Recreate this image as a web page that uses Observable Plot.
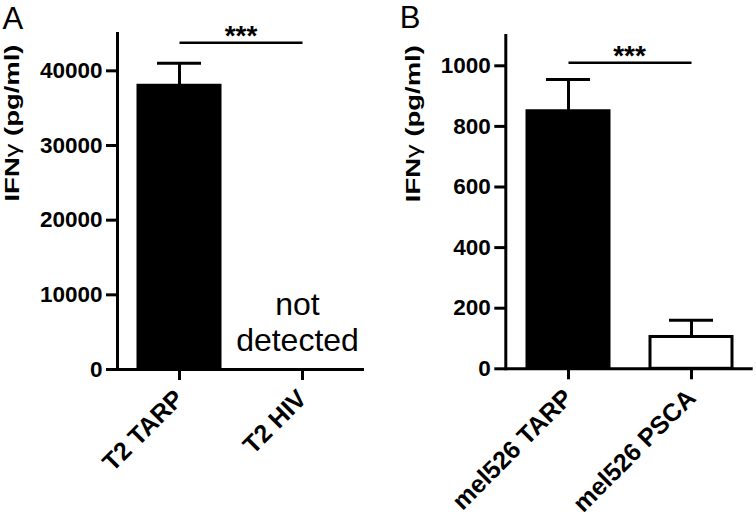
<!DOCTYPE html>
<html><head><meta charset="utf-8">
<script src="https://cdn.jsdelivr.net/npm/d3@7"></script>
<script src="https://cdn.jsdelivr.net/npm/@observablehq/plot@0.6"></script>
<style>
body{margin:0;background:#fff;}
#wrap{display:flex;width:756px;height:520px;}
</style>
</head><body><div id="wrap"></div>
<script>
// Panel A data
const groupsA = ["T2 TARP", "T2 HIV"];
const meansA = [38000, null];
const semsA = [3000, null];
const notDetectedA = ["T2 HIV"];
const yTicksA = [0, 10000, 20000, 30000, 40000];
const yMaxA = 45000;
const sigLevelA = 43750;

// Panel B data
const groupsB = ["mel526 TARP", "mel526 PSCA"];
const meansB = [850, 105];
const semsB = [105, 55];
const notDetectedB = [];
const yTicksB = [0, 200, 400, 600, 800, 1000];
const yMaxB = 1100;
const sigLevelB = 1010;

const yLabel = "IFNγ (pg/ml)";
const stars = "***";
const notDetectedText = "not\ndetected";

const FONT = "Arial, 'Liberation Sans', Helvetica, sans-serif";

function panel(o) {
  const rows = o.groups.map((g, i) => ({group: g, mean: o.means[i], sem: o.sems[i]}));
  const measured = rows.filter(d => d.mean != null);
  const sig = [{from: o.groups[0], to: o.groups[1], y: o.sigLevel}];
  return Plot.plot({
    width: 378, height: 520,
    marginLeft: o.marginLeft, marginRight: o.marginRight,
    marginTop: o.marginTop, marginBottom: o.marginBottom,
    style: {fontFamily: FONT, fontSize: "22px", fontWeight: "bold", background: "white", overflow: "visible", color: "black"},
    x: {domain: o.groups, paddingInner: 0.335, paddingOuter: 0.1675, label: null},
    y: {domain: [0, o.yMax], label: null},
    marks: [
      Plot.barY(measured, {x: "group", y: "mean", fill: d => d.group.includes("TARP") ? "black" : "white", stroke: "black", strokeWidth: 3}),
      Plot.ruleX(measured, {x: "group", y1: "mean", y2: d => d.mean + d.sem, strokeWidth: 3}),
      Plot.tickY(measured, {x: "group", y: d => d.mean + d.sem, strokeWidth: 3, insetLeft: 19, insetRight: 19}),
      Plot.link(sig, {x1: "from", x2: "to", y1: "y", y2: "y", strokeWidth: 2.5}),
      Plot.text(sig, {y: "y", text: () => stars, lineAnchor: "bottom", dy: 2, fontSize: 28, fontWeight: "bold"}),
      Plot.text(o.notDetected, {x: d => d, y: () => 0, text: () => notDetectedText, lineAnchor: "bottom", lineHeight: 1.1, dx: -5, dy: -19, fontSize: 32, fontWeight: "normal"}),
      Plot.axisY({ticks: o.yTicks, tickSize: 11, tickPadding: 4, strokeWidth: 3, tickFormat: d3.format("d"), fontSize: 22.5, fontWeight: "bold", label: null}),
      Plot.axisX({tickSize: 11, tickPadding: 14, tickRotate: -45, strokeWidth: 3, fontSize: 25, fontWeight: "bold", label: null}),
      Plot.ruleY([0], {strokeWidth: 3}),
      Plot.frame({anchor: "left", strokeWidth: 3}),
      Plot.text([yLabel], {frameAnchor: "left", rotate: -90, dx: o.labelDx, fontSize: 21, fontWeight: "bold"}),
      Plot.text([o.letter], {frameAnchor: "top-left", textAnchor: "start", lineAnchor: "bottom", dx: o.letterDx, dy: o.letterDy, fontSize: 31, fontWeight: "normal"})
    ]
  });
}

const wrap = document.getElementById("wrap");
const pA = panel({letter: "A", groups: groupsA, means: meansA, sems: semsA, yTicks: yTicksA, yMax: yMaxA, sigLevel: sigLevelA, notDetected: notDetectedA,
  marginLeft: 117, marginRight: 14, marginTop: 33, marginBottom: 151, labelDx: -105, letterDx: -115, letterDy: -5});
const pB = panel({letter: "B", groups: groupsB, means: meansB, sems: semsB, yTicks: yTicksB, yMax: yMaxB, sigLevel: sigLevelB, notDetected: notDetectedB,
  marginLeft: 127.3, marginRight: 3.3, marginTop: 35, marginBottom: 151.7, labelDx: -93, letterDx: -106, letterDy: -7.7});
wrap.append(pA, pB);
for (const svg of [pA, pB]) {
  svg.querySelectorAll("text").forEach(t => {
    if (t.textContent === yLabel) {
      const i = yLabel.indexOf("γ");
      t.textContent = "";
      const parts = [[yLabel.slice(0, i), "bold"], ["γ", "normal"], [yLabel.slice(i + 1), "bold"]];
      for (const [s, w] of parts) {
        const ts = document.createElementNS("http://www.w3.org/2000/svg", "tspan");
        ts.textContent = s;
        ts.setAttribute("font-weight", w);
        t.appendChild(ts);
      }
      t.setAttribute("textLength", 157);
      t.setAttribute("lengthAdjust", "spacingAndGlyphs");
    }
  });
}
</script>
</body></html>
